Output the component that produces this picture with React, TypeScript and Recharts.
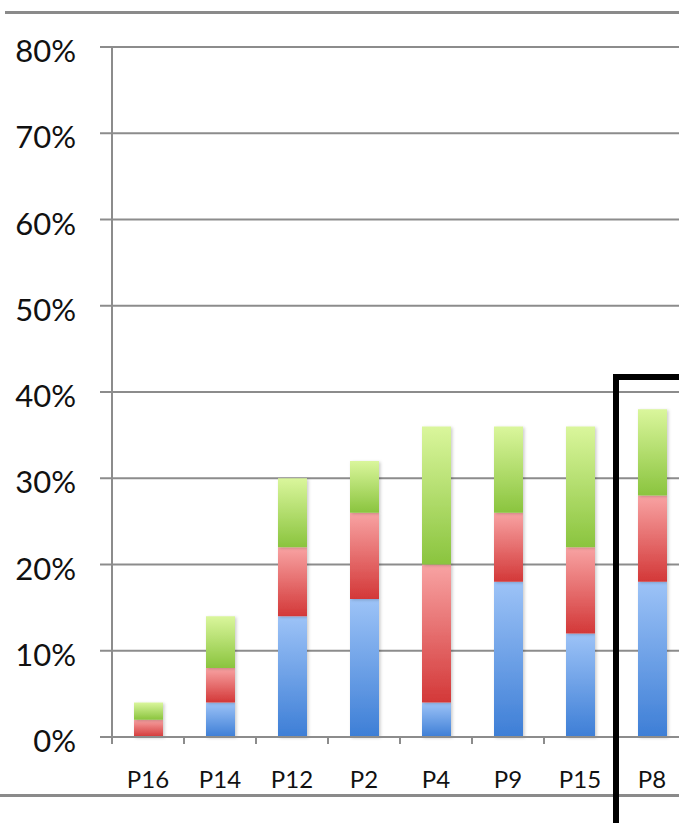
import { BarChart, Bar, XAxis, YAxis, CartesianGrid } from "recharts";

const categories = ["P16", "P14", "P12", "P2", "P4", "P9", "P15", "P8"];
const blueValues = [0, 4, 14, 16, 4, 18, 12, 18];
const redValues = [2, 4, 8, 10, 16, 8, 10, 10];
const greenValues = [2, 6, 8, 6, 16, 10, 14, 10];
const yTicks = [0, 10, 20, 30, 40, 50, 60, 70, 80];

const data = categories.map((name, i) => ({
  name,
  blue: blueValues[i],
  red: redValues[i],
  green: greenValues[i],
}));

const GRID = "#8c8c8c";
const FONT = "Lato, 'Open Sans', sans-serif";
const BAND = 72;

function CategoryTick(props: any) {
  const { x, y, payload, index } = props;
  return (
    <g>
      <line x1={x - BAND / 2} y1={y} x2={x - BAND / 2} y2={y + 7} stroke={GRID} strokeWidth={2} />
      {index === categories.length - 1 && (
        <line x1={x + BAND / 2} y1={y} x2={x + BAND / 2} y2={y + 7} stroke={GRID} strokeWidth={2} />
      )}
      <text
        x={x}
        y={y + 51}
        textAnchor="middle"
        fill="#111"
        style={{ fontSize: 24, fontFamily: FONT }}
      >
        {payload.value}
      </text>
    </g>
  );
}

export default function App() {
  return (
    <div
      style={{
        position: "fixed",
        left: 0,
        top: 0,
        width: 679,
        height: 823,
        overflow: "hidden",
        background: "#fff",
      }}
    >
      {/* slide border lines */}
      <div style={{ position: "absolute", left: 5, top: 11, width: 680, height: 3, background: "#8a8a8a" }} />
      <div style={{ position: "absolute", left: 0, top: 794, width: 680, height: 3, background: "#8a8a8a" }} />

      <div style={{ position: "absolute", left: 0, top: 0 }}>
        <BarChart
          width={700}
          height={823}
          data={data}
          margin={{ top: 47, right: 12, left: 0, bottom: 0 }}
          barSize={29}
        >
          <defs>
            <linearGradient id="gBlue" x1="0" y1="0" x2="0" y2="1">
              <stop offset="0%" stopColor="#9dc3f7" />
              <stop offset="100%" stopColor="#3d7ed6" />
            </linearGradient>
            <linearGradient id="gRed" x1="0" y1="0" x2="0" y2="1">
              <stop offset="0%" stopColor="#f8a3a3" />
              <stop offset="100%" stopColor="#d33838" />
            </linearGradient>
            <linearGradient id="gGreen" x1="0" y1="0" x2="0" y2="1">
              <stop offset="0%" stopColor="#daf69c" />
              <stop offset="100%" stopColor="#8ac43e" />
            </linearGradient>
            <filter id="shadow" x="-20%" y="-20%" width="150%" height="150%">
              <feDropShadow dx="1.5" dy="1" stdDeviation="1.5" floodColor="#000" floodOpacity="0.2" />
            </filter>
          </defs>
          <CartesianGrid vertical={false} stroke={GRID} strokeWidth={2} />
          <XAxis
            dataKey="name"
            height={86}
            axisLine={{ stroke: GRID, strokeWidth: 2 }}
            tickLine={false}
            tickSize={0}
            tickMargin={0}
            interval={0}
            tick={<CategoryTick />}
          />
          <YAxis
            width={112}
            domain={[0, 80]}
            ticks={yTicks}
            interval={0}
            axisLine={{ stroke: GRID, strokeWidth: 2 }}
            tickLine={{ stroke: GRID, strokeWidth: 2 }}
            tickSize={12}
            tickMargin={24}
            tickFormatter={(v: number) => `${v}%`}
            tick={{ fill: "#111", fontSize: 31, fontFamily: FONT, dy: 4 }}
          />
          <Bar dataKey="blue" stackId="a" fill="url(#gBlue)" filter="url(#shadow)" isAnimationActive={false} />
          <Bar dataKey="red" stackId="a" fill="url(#gRed)" filter="url(#shadow)" isAnimationActive={false} />
          <Bar dataKey="green" stackId="a" fill="url(#gGreen)" filter="url(#shadow)" isAnimationActive={false} />
        </BarChart>
      </div>

      {/* highlight box around P8 */}
      <div
        style={{
          position: "absolute",
          left: 613,
          top: 374,
          width: 120,
          height: 500,
          border: "6px solid #000",
          boxSizing: "border-box",
        }}
      />
    </div>
  );
}
